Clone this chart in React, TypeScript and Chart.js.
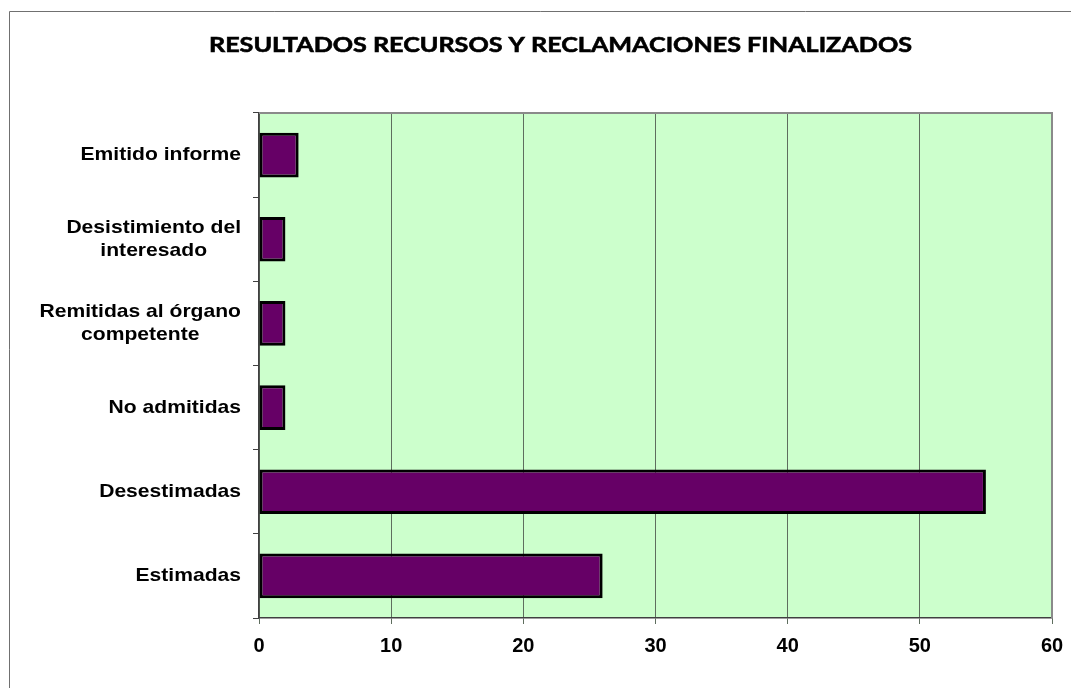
import React, { useEffect, useRef } from "react";
import { Chart, registerables } from "chart.js";

Chart.register(...registerables);

const TITLE = "RESULTADOS RECURSOS Y RECLAMACIONES FINALIZADOS";
const categories: string[][] = [
  ["Emitido informe"],
  ["Desistimiento del", "interesado"],
  ["Remitidas al órgano", "competente"],
  ["No admitidas"],
  ["Desestimadas"],
  ["Estimadas"],
];
const values: number[] = [3, 2, 2, 2, 55, 26];
const xMin = 0;
const xMax = 60;
const xStep = 10;

const W = 1071;
const H = 688;

const decorPlugin = {
  id: "decor",
  beforeDraw(chart: any) {
    const { ctx, chartArea: a } = chart;
    ctx.save();
    ctx.fillStyle = "#ffffff";
    ctx.fillRect(0, 0, chart.width, chart.height);
    // outer frame
    ctx.strokeStyle = "#707070";
    ctx.lineWidth = 1;
    ctx.beginPath();
    ctx.moveTo(9.5, chart.height);
    ctx.lineTo(9.5, 11.5);
    ctx.lineTo(chart.width, 11.5);
    ctx.stroke();
    // plot background
    ctx.fillStyle = "#CCFFCC";
    ctx.fillRect(a.left, a.top, a.right - a.left, a.bottom - a.top);
    // title
    ctx.fillStyle = "#000";
    ctx.font = "bold 21px Lato, 'Open Sans', sans-serif";
    ctx.textBaseline = "middle";
    ctx.textAlign = "center";
    const tw = ctx.measureText(TITLE).width;
    const sx = 703 / tw;
    ctx.translate(560.5, 45);
    ctx.scale(sx, 1);
    ctx.fillText(TITLE, 0, 0);
    ctx.lineWidth = 0.6;
    ctx.strokeStyle = "#000";
    ctx.strokeText(TITLE, 0, 0);
    ctx.restore();
  },
  beforeDatasetsDraw(chart: any) {
    const { ctx, chartArea: a } = chart;
    ctx.save();
    ctx.strokeStyle = "#8a8a8a";
    ctx.lineWidth = 2;
    ctx.beginPath();
    ctx.moveTo(a.left, a.top);
    ctx.lineTo(a.right, a.top);
    ctx.lineTo(a.right, a.bottom);
    ctx.stroke();
    ctx.restore();
  },
  afterDraw(chart: any) {
    const { ctx } = chart;
    const yScale = chart.scales.y;
    ctx.save();
    ctx.fillStyle = "#000";
    ctx.font = "bold 18.5px 'Liberation Sans', Arial, sans-serif";
    ctx.textBaseline = "middle";
    ctx.textAlign = "center";
    const sx = 1.14;
    const lineH = 23;
    const rightEdge = 241;
    categories.forEach((lines, i) => {
      const cy = yScale.getPixelForValue(i);
      const widths = lines.map((l) => ctx.measureText(l).width * sx);
      const bw = Math.max(...widths);
      const cx = rightEdge - bw / 2;
      lines.forEach((l, j) => {
        const y = cy + (j - (lines.length - 1) / 2) * lineH;
        ctx.save();
        ctx.translate(cx, y);
        ctx.scale(sx, 1);
        ctx.fillText(l, 0, 0);
        ctx.restore();
      });
    });
    ctx.restore();
  },
};

export default function App() {
  const ref = useRef<HTMLCanvasElement | null>(null);
  useEffect(() => {
    if (!ref.current) return;
    const chart = new Chart(ref.current, {
      type: "bar",
      data: {
        labels: categories.map((c) => c.join(" ")),
        datasets: [
          {
            data: values,
            backgroundColor: "#660066",
            borderColor: "#000000",
            borderWidth: 3,
            borderSkipped: false,
            barPercentage: 0.53,
            categoryPercentage: 1,
          },
        ],
      },
      options: {
        indexAxis: "y",
        animation: false,
        responsive: false,
        maintainAspectRatio: false,
        layout: { padding: { top: 113, right: 19, left: 0, bottom: 0 } },
        plugins: {
          legend: { display: false },
          title: { display: false },
          tooltip: { enabled: false },
        },
        scales: {
          y: {
            type: "category",
            afterFit: (s: any) => {
              s.width = 259;
              s.paddingTop = 0;
              s.paddingBottom = 0;
            },
            ticks: { display: false },
            grid: {
              drawOnChartArea: false,
              drawTicks: true,
              tickLength: 6,
              color: "#404040",
              offset: true,
            },
            border: { display: true, color: "#404040", width: 1.5 },
          },
          x: {
            type: "linear",
            min: xMin,
            max: xMax,
            afterFit: (s: any) => {
              s.height = 70;
              s.paddingLeft = 0;
              s.paddingRight = 0;
            },
            ticks: {
              stepSize: xStep,
              color: "#000",
              padding: 10,
              font: { family: "'Liberation Sans', Arial, sans-serif", size: 20, weight: "bold" },
            },
            grid: {
              color: "#5e6e5e",
              lineWidth: 1,
              tickLength: 6,
              drawTicks: true,
            },
            border: { display: true, color: "#404040", width: 1.5 },
          },
        },
      },
      plugins: [decorPlugin],
    } as any);
    return () => chart.destroy();
  }, []);
  return (
    <div style={{ position: "absolute", left: 0, top: 0, width: W, height: H }}>
      <canvas ref={ref} width={W} height={H} style={{ display: "block", width: W, height: H }} />
    </div>
  );
}
